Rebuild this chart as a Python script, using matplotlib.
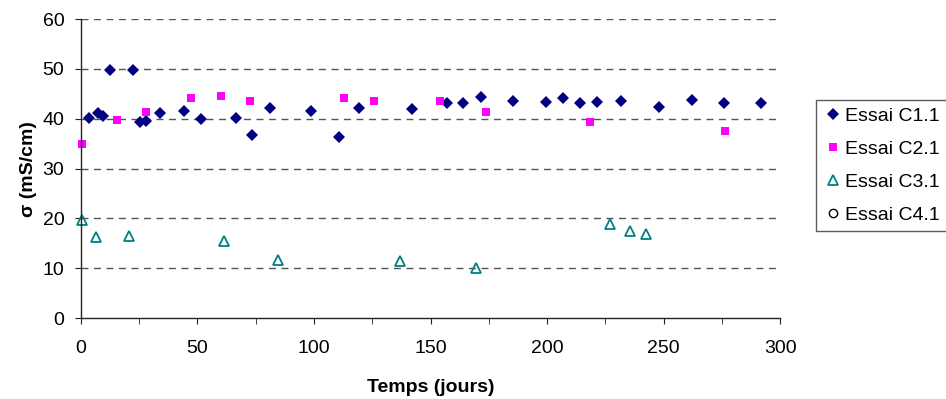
import matplotlib.pyplot as plt
from matplotlib.ticker import MultipleLocator

plt.rcParams['font.family'] = ['Liberation Sans', 'DejaVu Sans']

# Essai C1.1
c1_t = [3.4, 7.3, 9.4, 12.4, 22.3, 25.3, 27.9, 33.9, 44.2, 51.5, 66.5, 73.4, 81.1,
        98.7, 110.7, 119.3, 142.0, 157.0, 163.9, 171.7, 185.4, 199.6, 206.9,
        214.2, 221.5, 231.8, 248.1, 262.3, 276.0, 291.8]
c1_s = [40.2, 41.2, 40.6, 49.8, 49.8, 39.3, 39.6, 41.2, 41.6, 40.0, 40.2, 36.7, 42.2,
        41.6, 36.3, 42.2, 42.0, 43.2, 43.2, 44.4, 43.6, 43.4, 44.2,
        43.2, 43.4, 43.6, 42.4, 43.8, 43.2, 43.2]

# Essai C2.1
c2_t = [0.6, 15.6, 27.9, 47.3, 60.2, 72.5, 112.9, 125.9, 153.9, 173.8, 218.3, 276.5]
c2_s = [34.9, 39.7, 41.4, 44.2, 44.5, 43.6, 44.2, 43.6, 43.6, 41.4, 39.4, 37.5]

# Essai C3.1
c3_t = [0.4, 6.4, 20.6, 61.4, 84.5, 136.9, 169.5, 227.0, 235.6, 242.4]
c3_s = [19.7, 16.2, 16.5, 15.5, 11.7, 11.4, 10.1, 18.8, 17.4, 16.8]

# Essai C4.1 (aucun point)
c4_t = []
c4_s = []

fig = plt.figure(figsize=(9.46, 3.99), dpi=100)
ax = fig.add_axes([0.0856, 0.203, 0.739, 0.749])

ax.plot(c1_t, c1_s, 'D', color='#000080', ms=6, mew=0, ls='none', label='Essai C1.1', clip_on=False)
ax.plot(c2_t, c2_s, 's', color='#FF00FF', ms=6, mew=0, ls='none', label='Essai C2.1', clip_on=False)
ax.plot(c3_t, c3_s, '^', mfc='none', mec='#008080', mew=1.3, ms=7, ls='none',
        label='Essai C3.1', clip_on=False)
ax.plot(c4_t, c4_s, 'o', mfc='none', mec='black', mew=1.0, ms=6, ls='none', label='Essai C4.1')

ax.set_xlim(0, 300)
ax.set_ylim(0, 60)
ax.set_xticks(range(0, 301, 50))
ax.xaxis.set_minor_locator(MultipleLocator(25))
ax.set_yticks(range(0, 61, 10))
for y in range(10, 61, 10):
    ax.axhline(y, color='#555555', lw=1.0, ls=(0, (5, 4)), zorder=0)

for s in ['top', 'right']:
    ax.spines[s].set_visible(False)
for s in ['left', 'bottom']:
    ax.spines[s].set_color('#222222')
    ax.spines[s].set_linewidth(1.0)
ax.tick_params(which='both', direction='out', length=4, color='#222222')
ax.tick_params(axis='x', which='major', labelsize=14, pad=12)
ax.tick_params(axis='y', labelsize=14, pad=8)

ax.set_xlabel('Temps (jours)', fontsize=14, fontweight='bold', labelpad=16)
ax.set_ylabel('σ (mS/cm)', fontsize=14, fontweight='bold', labelpad=4)

leg = ax.legend(loc='upper left', bbox_to_anchor=(1.0515, 0.729), fontsize=14,
                frameon=True, fancybox=False, edgecolor='#333333',
                handletextpad=0.15, handlelength=1.0, borderpad=0.35, labelspacing=0.8,
                borderaxespad=0)
leg.get_frame().set_linewidth(1.0)

fig.savefig('out.png', dpi=100)
